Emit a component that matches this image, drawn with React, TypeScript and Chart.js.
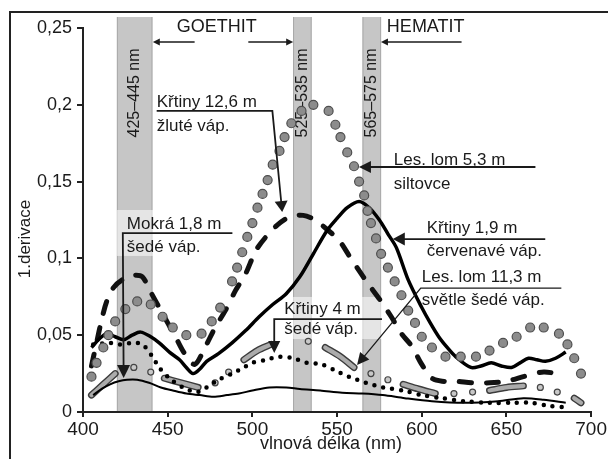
import React, { useEffect, useRef } from 'react';
import { Chart, registerables } from 'chart.js';

Chart.register(...registerables);

const FONT = '"Liberation Sans", Arial, Helvetica, sans-serif';

// ---- tick labels ----
const xTickLabels = ['400', '450', '500', '550', '600', '650', '700'];
const yTickLabels = ['0', '0,05', '0,1', '0,15', '0,2', '0,25'];

// ---- Les. lom 5,3 m siltovce (grey circles) ----
const lesLom53Nm = [405, 408, 412, 415, 419, 425, 432, 440, 447, 453, 461, 470, 476, 481, 488, 491, 494, 497, 500, 503, 506, 509, 512, 516, 519, 523, 529, 536, 545, 549, 552, 556, 560, 563, 566, 568, 570, 573, 576, 580, 584, 588, 592, 596, 600, 606, 614, 623, 632, 640, 648, 656, 664, 672, 681, 686, 690, 694];
const lesLom53Val = [0.023, 0.032, 0.042, 0.05, 0.059, 0.067, 0.072, 0.07, 0.062, 0.055, 0.05, 0.051, 0.059, 0.068, 0.085, 0.094, 0.104, 0.114, 0.123, 0.133, 0.142, 0.151, 0.161, 0.17, 0.179, 0.188, 0.196, 0.2, 0.196, 0.187, 0.179, 0.169, 0.16, 0.15, 0.141, 0.131, 0.123, 0.113, 0.103, 0.094, 0.085, 0.076, 0.066, 0.058, 0.049, 0.042, 0.036, 0.036, 0.036, 0.04, 0.045, 0.049, 0.055, 0.055, 0.051, 0.044, 0.035, 0.025];

// ---- Křtiny 12,6 m žluté váp. (thick dashes) ----
const krtiny126Nm = [405, 408, 411, 414, 418, 423, 430, 435, 440, 445, 450, 455, 460, 466, 472, 478, 484, 490, 496, 502, 508, 515, 522, 530, 537, 545, 551, 557, 563, 568, 576, 582, 588, 594, 600, 606, 612, 620, 630, 640, 650, 660, 672, 684];
const krtiny126Val = [0.03, 0.045, 0.06, 0.072, 0.081, 0.086, 0.089, 0.088, 0.078, 0.068, 0.058, 0.048, 0.038, 0.031, 0.042, 0.055, 0.066, 0.079, 0.09, 0.105, 0.114, 0.122, 0.127, 0.128, 0.125, 0.118, 0.112, 0.102, 0.092, 0.084, 0.072, 0.062, 0.051, 0.043, 0.031, 0.022, 0.02, 0.02, 0.019, 0.019, 0.02, 0.023, 0.026, 0.024];

// ---- Křtiny 1,9 m červenavé váp. (thick solid) ----
const krtiny19Nm = [405, 410, 414, 419, 424, 429, 434, 440, 445, 451, 457, 461, 465, 469, 473, 480, 488, 496, 504, 512, 520, 528, 536, 544, 550, 556, 563, 569, 575, 580, 585, 592, 600, 605, 610, 615, 620, 629, 635, 641, 647, 653, 658, 663, 668, 673, 679, 685];
const krtiny19Val = [0.042, 0.048, 0.051, 0.049, 0.047, 0.05, 0.052, 0.049, 0.045, 0.039, 0.034, 0.029, 0.025, 0.028, 0.033, 0.038, 0.045, 0.053, 0.062, 0.07, 0.077, 0.088, 0.103, 0.118, 0.126, 0.133, 0.137, 0.133, 0.125, 0.116, 0.107, 0.086, 0.068, 0.058, 0.049, 0.042, 0.036, 0.029, 0.03, 0.032, 0.03, 0.029, 0.032, 0.035, 0.034, 0.033, 0.035, 0.039];

// ---- Křtiny 4 m šedé váp. (small dots) ----
const krtiny4Nm = [406, 416, 422, 429, 435, 441, 445, 451, 459, 467, 473, 480, 488, 495, 500, 508, 516, 524, 532, 541, 549, 557, 567, 577, 589, 600, 612, 625, 640, 655, 665, 675, 685];
const krtiny4Val = [0.044, 0.045, 0.044, 0.045, 0.044, 0.036, 0.029, 0.022, 0.016, 0.013, 0.016, 0.021, 0.025, 0.029, 0.032, 0.034, 0.036, 0.035, 0.032, 0.031, 0.027, 0.023, 0.019, 0.016, 0.014, 0.011, 0.009, 0.007, 0.006, 0.006, 0.006, 0.004, 0.003];

// ---- Mokrá 1,8 m šedé váp. (thin solid) ----
const mokraNm = [406, 411, 416, 421, 426, 432, 439, 446, 453, 461, 469, 477, 485, 492, 500, 510, 520, 528, 540, 553, 565, 577, 590, 606, 625, 645, 660, 672, 685];
const mokraVal = [0.011, 0.015, 0.018, 0.02, 0.021, 0.021, 0.019, 0.016, 0.014, 0.012, 0.011, 0.01, 0.011, 0.012, 0.014, 0.016, 0.016, 0.015, 0.014, 0.0125, 0.012, 0.011, 0.009, 0.007, 0.006, 0.007, 0.009, 0.008, 0.006];

// ---- Les. lom 11,3 m světle šedé váp. (grey dash + small circles) ----
const lesLom113DashNm = [[405, 412, 419], [448, 458, 468], [495, 503, 511], [543, 552, 560], [589, 598, 608], [640, 650, 660], [690, 694]];
const lesLom113DashVal = [[0.011, 0.018, 0.025], [0.022, 0.019, 0.016], [0.034, 0.04, 0.044], [0.042, 0.036, 0.029], [0.018, 0.015, 0.012], [0.014, 0.016, 0.017], [0.009, 0.006]];
const lesLom113DotNm = [430, 440, 478, 486, 533, 570, 580, 619, 630, 670, 680];
const lesLom113DotVal = [0.029, 0.026, 0.019, 0.026, 0.046, 0.025, 0.021, 0.012, 0.013, 0.016, 0.013];

// ---- highlighted wavelength bands ----
const bandFrom = [420, 524, 565];
const bandTo = [441, 535, 576];
const bandLabels = ['425–445 nm', '525–535 nm', '565–575 nm'];

const zip = (xs: number[], ys: number[]) => xs.map((x, i) => ({ x, y: ys[i] }));

// annotation layout (data coordinates)
const labelDefs = [
  { lines: ['Křtiny 12,6 m', 'žluté váp.'], x: 443.5, y: 0.1986, gap: 24 },
  { lines: ['Les. lom 5,3 m', 'siltovce'], x: 583.5, y: 0.1608, gap: 24 },
  { lines: ['Mokrá 1,8 m', 'šedé váp.'], x: 425.9, y: 0.1191, gap: 23 },
  { lines: ['Křtiny 1,9 m', 'červenavé váp.'], x: 602.9, y: 0.1165, gap: 23 },
  { lines: ['Les. lom 11,3 m', 'světle šedé váp.'], x: 600, y: 0.0846, gap: 23 },
  { lines: ['Křtiny 4 m', 'šedé váp.'], x: 518.8, y: 0.0638, gap: 20 },
];
const labelBoxes = [
  { x0: 420, x1: 488.2, y0: 0.1016, y1: 0.1315 },
  { x0: 510, x1: 576.5, y0: 0.0475, y1: 0.0749 },
];
const leaders = [
  { pts: [[443.5, 0.196], [511.8, 0.196], [517.6, 0.1302]], len: 11, hw: 6.5, lw: 1.8 },
  { pts: [[667.1, 0.1595], [562.9, 0.1595]], len: 12, hw: 6, lw: 1.8 },
  { pts: [[488.2, 0.1165], [423.5, 0.1165], [424, 0.0221]], len: 13, hw: 6.5, lw: 1.8 },
  { pts: [[672.9, 0.1126], [582.9, 0.1126]], len: 12, hw: 6.5, lw: 1.8 },
  { pts: [[682.4, 0.0807], [599.4, 0.0807], [561.8, 0.0306]], len: 12, hw: 6, lw: 1.3 },
  { pts: [[576.5, 0.0605], [512.9, 0.0605], [512.9, 0.0384]], len: 12, hw: 6, lw: 1.8 },
  { pts: [[465.9, 0.2409], [441.2, 0.2409]], len: 7, hw: 3.5, lw: 1.3 },
  { pts: [[497.6, 0.2409], [524.1, 0.2409]], len: 7, hw: 3.5, lw: 1.3 },
  { pts: [[623.5, 0.2409], [575.9, 0.2409]], len: 7, hw: 3.5, lw: 1.3 },
];
const headings = [
  { text: 'GOETHIT', x: 479, y: 0.2507, align: 'center' },
  { text: 'HEMATIT', x: 579.4, y: 0.2507, align: 'left' },
];

const TEXT = '#1a1a1a';

const annotPlugin = {
  id: 'annot',
  beforeDraw(chart: any) {
    const { ctx, chartArea } = chart;
    const sx = chart.scales.x;
    const sy = chart.scales.y;
    ctx.save();
    // bands
    for (let i = 0; i < bandFrom.length; i++) {
      const x0 = sx.getPixelForValue(bandFrom[i]);
      const x1 = sx.getPixelForValue(bandTo[i]);
      const top = chartArea.top - 11;
      const bot = chartArea.bottom - 1;
      ctx.fillStyle = '#c6c6c6';
      ctx.fillRect(x0, top, x1 - x0, bot - top);
      ctx.strokeStyle = '#a9a9a9';
      ctx.lineWidth = 1;
      ctx.beginPath();
      ctx.moveTo(x0 + 0.5, top);
      ctx.lineTo(x0 + 0.5, bot);
      ctx.moveTo(x1 - 0.5, top);
      ctx.lineTo(x1 - 0.5, bot);
      ctx.stroke();
    }
    // label background boxes
    ctx.fillStyle = 'rgba(255,255,255,0.55)';
    for (const b of labelBoxes) {
      const x0 = sx.getPixelForValue(b.x0);
      const x1 = sx.getPixelForValue(b.x1);
      const y0 = sy.getPixelForValue(b.y1);
      const y1 = sy.getPixelForValue(b.y0);
      ctx.fillRect(x0, y0, x1 - x0, y1 - y0);
    }
    // band labels
    ctx.fillStyle = TEXT;
    ctx.font = `16px ${FONT}`;
    ctx.textAlign = 'center';
    ctx.textBaseline = 'middle';
    for (let i = 0; i < bandFrom.length; i++) {
      const cx = sx.getPixelForValue((bandFrom[i] + bandTo[i]) / 2);
      const cy = sy.getPixelForValue(0.2077);
      ctx.save();
      ctx.translate(cx, cy);
      ctx.rotate(-Math.PI / 2);
      ctx.fillText(bandLabels[i], 0, 0);
      ctx.restore();
    }
    ctx.restore();
  },
  afterDatasetsDraw(chart: any) {
    const { ctx } = chart;
    const sx = chart.scales.x;
    const sy = chart.scales.y;
    ctx.save();
    ctx.fillStyle = TEXT;
    ctx.strokeStyle = TEXT;
    // headings
    ctx.font = `18px ${FONT}`;
    ctx.textBaseline = 'middle';
    for (const h of headings) {
      ctx.textAlign = h.align;
      ctx.fillText(h.text, sx.getPixelForValue(h.x), sy.getPixelForValue(h.y));
    }
    // labels
    ctx.font = `17px ${FONT}`;
    ctx.textAlign = 'left';
    ctx.textBaseline = 'alphabetic';
    for (const l of labelDefs) {
      const x = sx.getPixelForValue(l.x);
      const y = sy.getPixelForValue(l.y);
      l.lines.forEach((t, i) => ctx.fillText(t, x, y + i * l.gap));
    }
    // leader lines with arrow heads
    for (const a of leaders) {
      const p = a.pts.map(([nx, v]) => [sx.getPixelForValue(nx), sy.getPixelForValue(v)]);
      const n = p.length;
      const [tx, ty] = p[n - 1];
      const [bx, by] = p[n - 2];
      const dx = tx - bx;
      const dy = ty - by;
      const d = Math.hypot(dx, dy);
      const ux = dx / d;
      const uy = dy / d;
      ctx.lineWidth = a.lw;
      ctx.beginPath();
      ctx.moveTo(p[0][0], p[0][1]);
      for (let i = 1; i < n - 1; i++) ctx.lineTo(p[i][0], p[i][1]);
      ctx.lineTo(tx - ux * a.len * 0.8, ty - uy * a.len * 0.8);
      ctx.stroke();
      ctx.beginPath();
      ctx.moveTo(tx, ty);
      ctx.lineTo(tx - ux * a.len - uy * a.hw, ty - uy * a.len + ux * a.hw);
      ctx.lineTo(tx - ux * a.len + uy * a.hw, ty - uy * a.len - ux * a.hw);
      ctx.closePath();
      ctx.fill();
    }
    ctx.restore();
  },
  afterDraw(chart: any) {
    const { ctx } = chart;
    ctx.save();
    ctx.fillStyle = TEXT;
    // axis titles
    ctx.font = `18px ${FONT}`;
    ctx.textAlign = 'center';
    ctx.textBaseline = 'middle';
    ctx.fillText('vlnová délka (nm)', 331, 444);
    ctx.font = `17px ${FONT}`;
    ctx.translate(25, 239);
    ctx.rotate(-Math.PI / 2);
    ctx.fillText('1.derivace', 0, 0);
    ctx.restore();
    // frame
    ctx.save();
    ctx.strokeStyle = '#222';
    ctx.lineWidth = 2;
    ctx.beginPath();
    ctx.moveTo(10, 459);
    ctx.lineTo(10, 12);
    ctx.lineTo(608, 12);
    ctx.stroke();
    ctx.restore();
  },
};

export default function App() {
  const ref = useRef<HTMLCanvasElement>(null);
  useEffect(() => {
    const lineBase = { pointRadius: 0, fill: false, tension: 0.3 };
    const datasets: any[] = [
      {
        label: 'Les. lom 5,3 m siltovce',
        data: zip(lesLom53Nm, lesLom53Val),
        showLine: false,
        pointRadius: 4.5,
        pointBackgroundColor: '#8c8c8c',
        pointBorderColor: '#4e4e4e',
        pointBorderWidth: 1.2,
        order: 1,
      },
      {
        ...lineBase,
        label: 'Křtiny 12,6 m žluté váp.',
        data: zip(krtiny126Nm, krtiny126Val),
        borderColor: '#111',
        borderWidth: 5,
        borderDash: [12, 15],
        borderCapStyle: 'round',
        order: 3,
      },
      {
        ...lineBase,
        label: 'Křtiny 1,9 m červenavé váp.',
        data: zip(krtiny19Nm, krtiny19Val),
        borderColor: '#000',
        borderWidth: 3.5,
        borderJoinStyle: 'round',
        order: 2,
      },
      {
        ...lineBase,
        label: 'Křtiny 4 m šedé váp.',
        data: zip(krtiny4Nm, krtiny4Val),
        borderColor: '#000',
        borderWidth: 4.5,
        borderDash: [0, 9],
        borderCapStyle: 'round',
        order: 5,
      },
      {
        ...lineBase,
        label: 'Mokrá 1,8 m šedé váp.',
        data: zip(mokraNm, mokraVal),
        borderColor: '#000',
        borderWidth: 2,
        order: 6,
      },
    ];
    lesLom113DashNm.forEach((xs, i) => {
      const d = zip(xs, lesLom113DashVal[i]);
      datasets.push({ ...lineBase, label: 'LL113o' + i, data: d, borderColor: '#3c3c3c', borderWidth: 7, borderCapStyle: 'round', order: 9 });
      datasets.push({ ...lineBase, label: 'LL113f' + i, data: d, borderColor: '#ababab', borderWidth: 4.2, borderCapStyle: 'round', order: 8 });
    });
    datasets.push({
      label: 'Les. lom 11,3 m světle šedé váp.',
      data: zip(lesLom113DotNm, lesLom113DotVal),
      showLine: false,
      pointRadius: 3,
      pointBackgroundColor: '#c8c8c8',
      pointBorderColor: '#444',
      pointBorderWidth: 1.2,
      order: 7,
    });

    const chart = new Chart(ref.current as HTMLCanvasElement, {
      type: 'line',
      data: { datasets },
      options: {
        animation: false,
        responsive: true,
        maintainAspectRatio: false,
        layout: { padding: { top: 28, right: 15, bottom: 0, left: 0 } },
        plugins: { legend: { display: false }, tooltip: { enabled: false } },
        scales: {
          x: {
            type: 'linear',
            min: 400,
            max: 700,
            ticks: {
              stepSize: 50,
              padding: 1,
              color: TEXT,
              font: { family: FONT, size: 19 },
              callback: (_v: any, i: number) => xTickLabels[i],
            },
            grid: { display: true, drawOnChartArea: false, drawTicks: true, tickLength: 5, color: '#222', lineWidth: 2 },
            border: { display: true, color: '#222', width: 2 },
            afterFit: (s: any) => { s.height = 47; },
          },
          y: {
            type: 'linear',
            min: 0,
            max: 0.25,
            ticks: {
              stepSize: 0.05,
              padding: 5,
              color: TEXT,
              font: { family: FONT, size: 18 },
              callback: (_v: any, i: number) => yTickLabels[i],
            },
            grid: { display: true, drawOnChartArea: false, drawTicks: true, tickLength: 6, color: '#222', lineWidth: 2 },
            border: { display: true, color: '#222', width: 2 },
            afterFit: (s: any) => { s.width = 83; },
          },
        },
      } as any,
      plugins: [annotPlugin],
    });
    return () => chart.destroy();
  }, []);
  return (
    <div style={{ position: 'fixed', left: 0, top: 0, width: 608, height: 459, background: '#fff' }}>
      <canvas ref={ref} />
    </div>
  );
}
